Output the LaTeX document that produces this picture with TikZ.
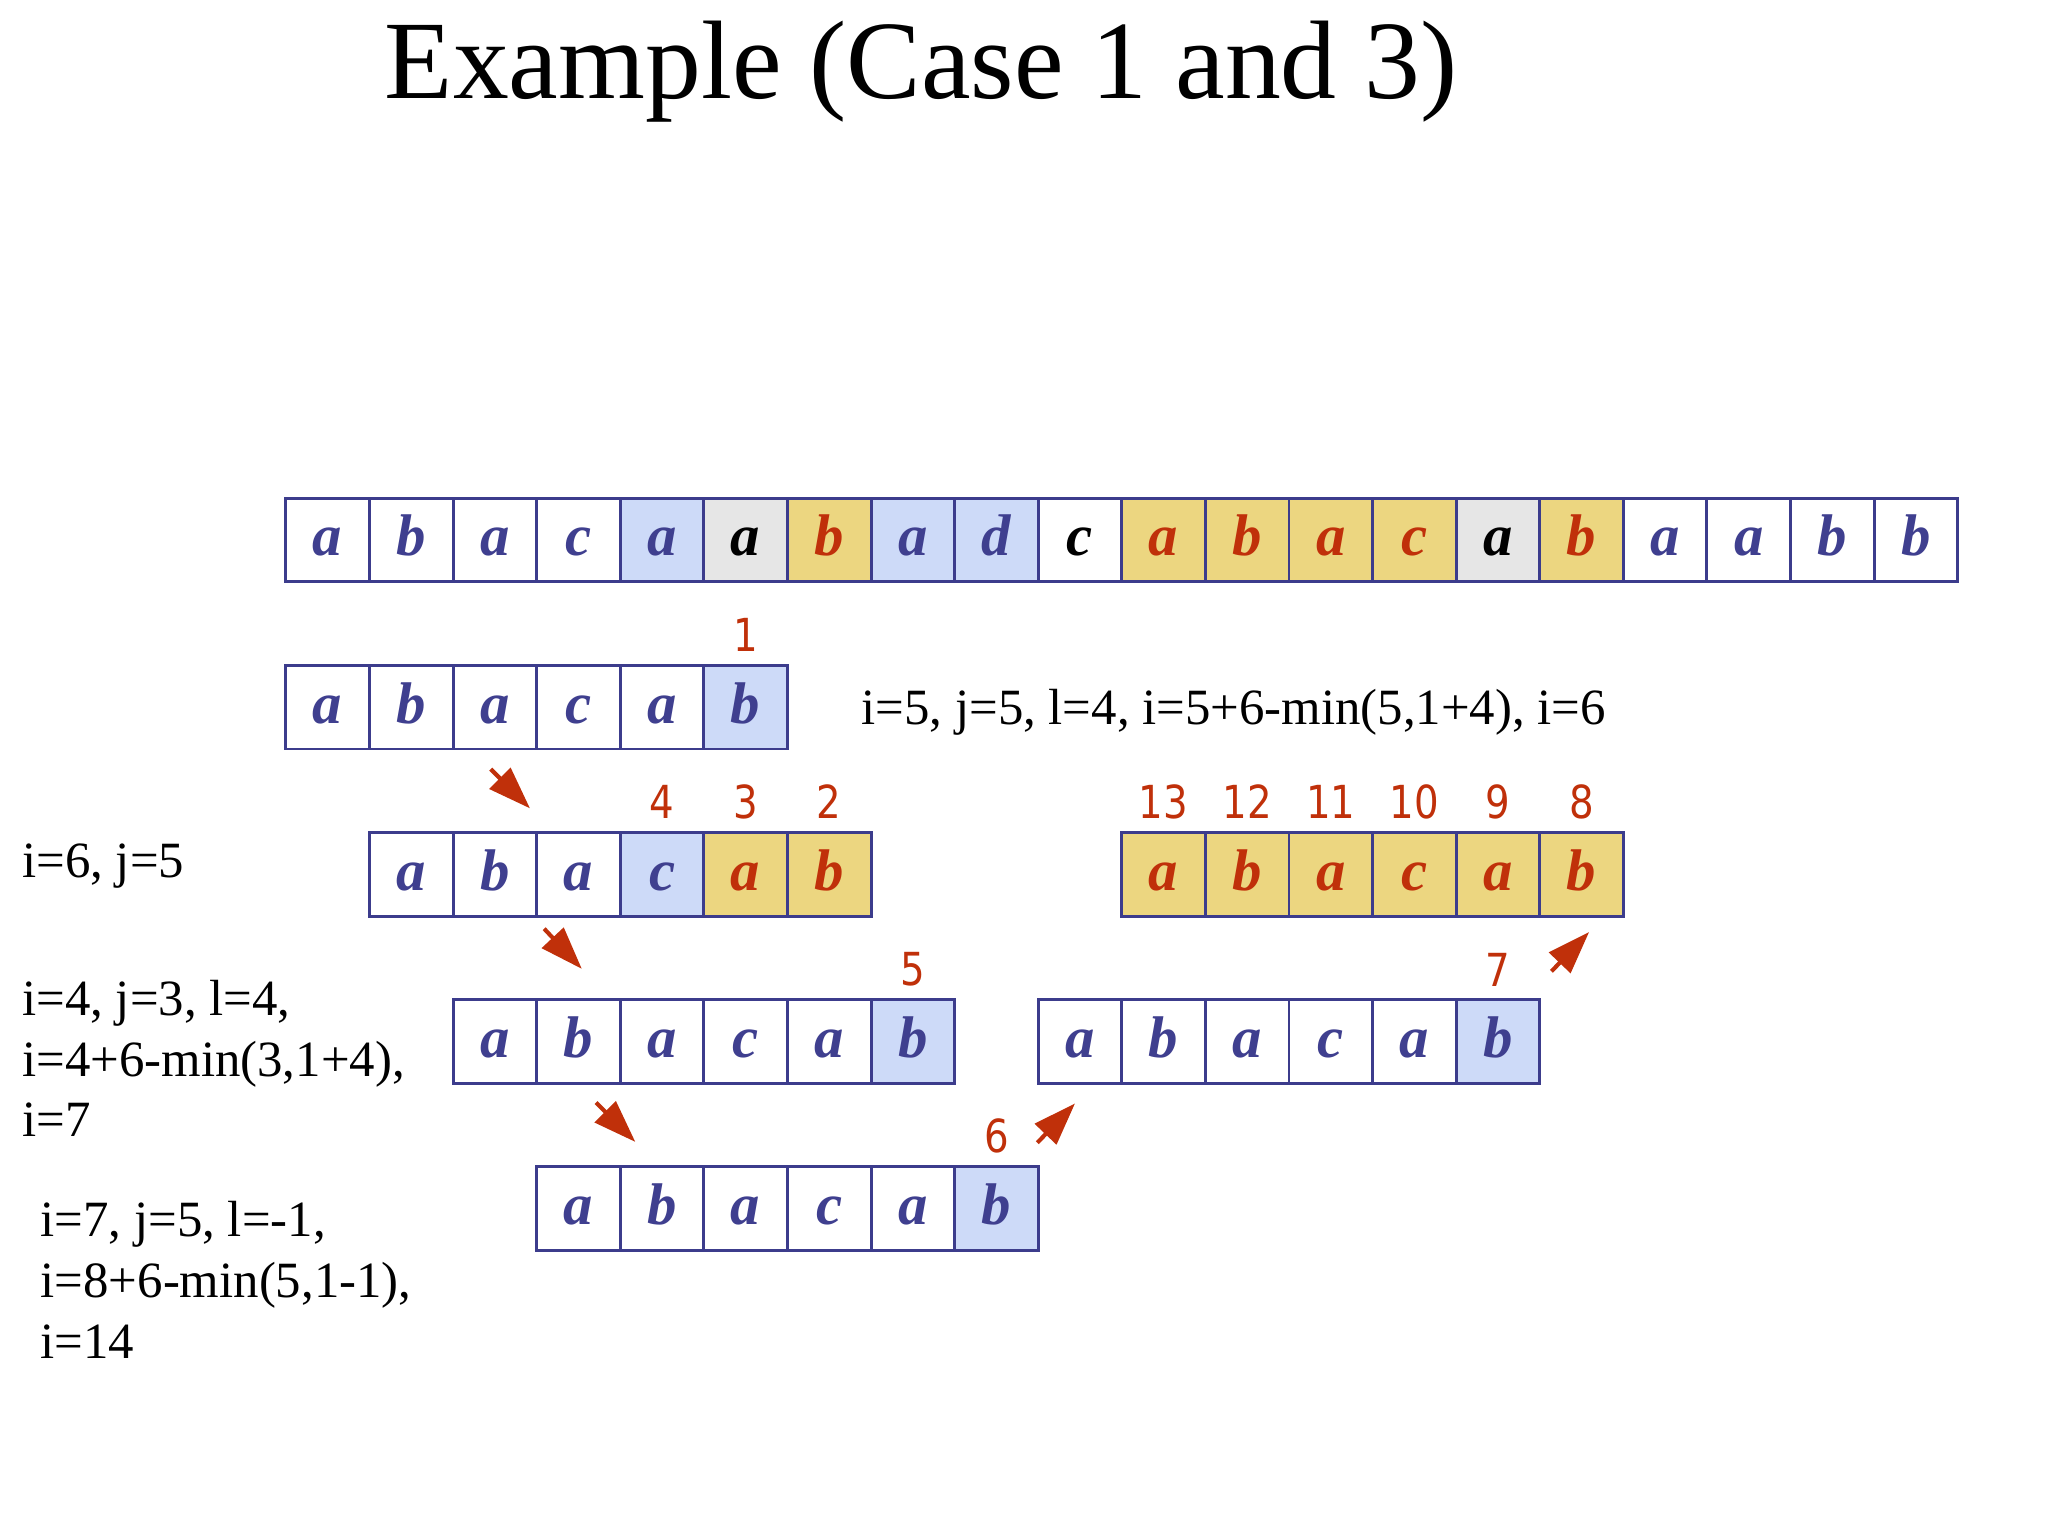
\documentclass[tikz,border=0pt]{standalone}
\usepackage{fontspec}
\setmainfont{Liberation Serif}
\newfontfamily\numfont[FakeStretch=0.85]{DejaVu Sans}
\usetikzlibrary{arrows.meta,positioning}
\definecolor{celledge}{HTML}{3C3C8C}
\definecolor{letterblue}{HTML}{3F3F8F}
\definecolor{hitblue}{HTML}{CDDAF8}
\definecolor{skipgrey}{HTML}{E6E6E6}
\definecolor{matchyellow}{HTML}{ECD680}
\definecolor{shiftred}{HTML}{C0300A}

\begin{document}
\begin{tikzpicture}[
    cell/.style={draw=celledge,line width=1pt,minimum size=1cm,inner sep=0pt,
      text height=0.5cm,text depth=0.12cm,
      font=\fontsize{20}{24}\selectfont\bfseries\itshape},
    wcell/.style={fill=white,text=letterblue},
    bcell/.style={fill=hitblue,text=letterblue},
    gcell/.style={fill=skipgrey,text=black},
    kcell/.style={fill=white,text=black},
    ycell/.style={fill=matchyellow,text=shiftred},
    num/.style={inner sep=0pt,text=shiftred,font=\numfont\fontsize{15.5}{18}\selectfont},
    txt/.style={inner sep=0pt,font=\fontsize{17.3}{20.7}\selectfont},
    shiftarrow/.style={draw=shiftred,line width=1.4pt,
      -{Triangle[length=0.51cm,width=0.35cm]}}]
    \fill[white] (0,0) rectangle (24.5,-18.375);
    \useasboundingbox (0,0) rectangle (24.5,-18.375);

    \node[font=\fontsize{38}{44}\selectfont,anchor=base] (title) at (11.02,-1.18)
      {Example (Case 1 and 3)};

    % text
    \foreach \ch/\st [count=\k] in {a/wcell,b/wcell,a/wcell,c/wcell,a/bcell,a/gcell,
        b/ycell,a/bcell,d/bcell,c/kcell,a/ycell,b/ycell,a/ycell,c/ycell,a/gcell,
        b/ycell,a/wcell,a/wcell,b/wcell,b/wcell}
      \node[cell,\st] (t\k) at (2.92+\k,-6.46) {\ch};

    % pattern, plain shifts
    \foreach \row/\x/\y in {p1/3.42/-8.46,p3/5.42/-12.46,q3/12.42/-12.46,p4/6.42/-14.46}
      \foreach \ch/\st [count=\k] in {a/wcell,b/wcell,a/wcell,c/wcell,a/wcell,b/bcell}
        \node[cell,\st] (\row\k) at (\x+\k-0.5,\y) {\ch};
    \foreach \ch/\st [count=\k] in {a/wcell,b/wcell,a/wcell,c/bcell,a/ycell,b/ycell}
      \node[cell,\st] (p2\k) at (3.92+\k,-10.46) {\ch};
    \foreach \ch [count=\k] in {a,b,a,c,a,b}
      \node[cell,ycell] (q2\k) at (12.92+\k,-10.46) {\ch};

    % comparison order
    \node[num,above=0.14cm of p16] (n1) {1};
    \foreach \k/\n in {4/4,5/3,6/2}
      \node[num,above=0.14cm of p2\k] (n\n) {\n};
    \foreach \k/\n in {1/13,2/12,3/11,4/10,5/9,6/8}
      \node[num,above=0.14cm of q2\k] (n\n) {\n};
    \node[num,above=0.14cm of p36] (n5) {5};
    \node[num,above=0.14cm of p46] (n6) {6};
    \node[num,above=0.14cm of q36] (n7) {7};

    % base of a multi-line node = last line
    \node[txt,anchor=base west] (s1) at (10.30,-8.67)
      {i=5, j=5, l=4, i=5+6-min(5,1+4), i=6};
    \node[txt,anchor=base west] (s2) at (0.26,-10.50) {i=6, j=5};
    \node[txt,align=left,anchor=base west] (s3) at (0.26,-13.60)
      {i=4, j=3, l=4,\\i=4+6-min(3,1+4),\\i=7};
    \node[txt,align=left,anchor=base west] (s4) at (0.48,-16.25)
      {i=7, j=5, l=-1,\\i=8+6-min(5,1-1),\\i=14};

    \coordinate (a1s) at (5.87,-9.20);   \coordinate (a1e) at (6.34,-9.67);
    \coordinate (a2s) at (6.51,-11.11);  \coordinate (a2e) at (6.96,-11.59);
    \coordinate (a3s) at (7.13,-13.19);  \coordinate (a3e) at (7.60,-13.66);
    \coordinate (a4s) at (12.41,-13.67); \coordinate (a4e) at (12.86,-13.20);
    \coordinate (a5s) at (18.56,-11.62); \coordinate (a5e) at (19.01,-11.15);
    \foreach \a in {1,...,5}
      \draw[shiftarrow] (a\a s) -- (a\a e);
  \end{tikzpicture}
\end{document}
